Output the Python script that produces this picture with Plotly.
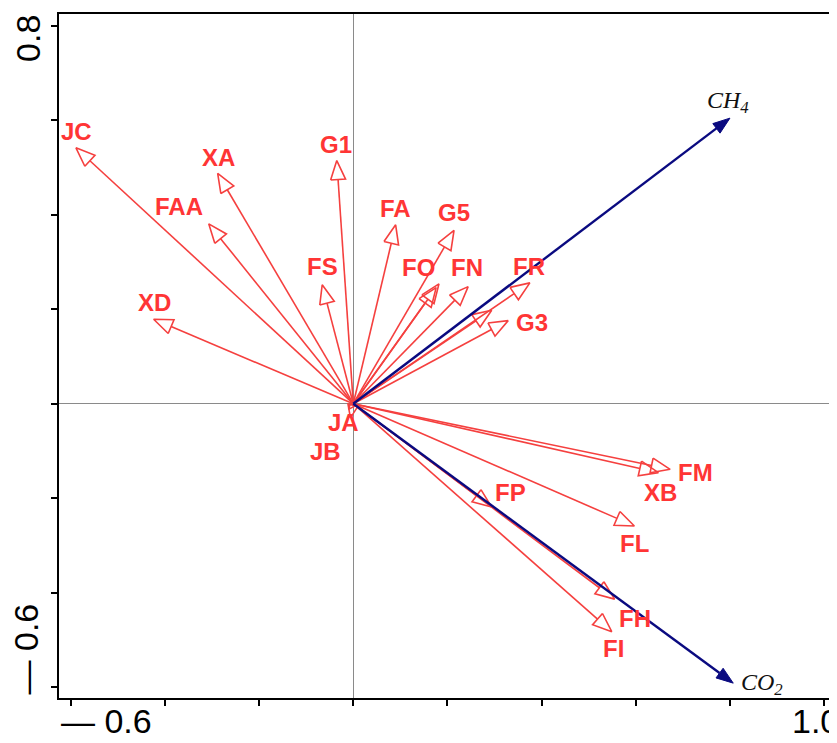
import math
import plotly.graph_objects as go

# ---- data ----
species = ["JC", "XA", "FAA", "G1", "FA", "FS", "XD", "G5", "FO", "", "FN", "FR", "", "G3",
           "FM", "XB", "FP", "FL", "FH", "FI", "JA", "JB"]
sp_x = [-0.589, -0.288, -0.307, -0.035, 0.090, -0.066, -0.424, 0.214, 0.182, 0.176, 0.244, 0.375, 0.294, 0.329,
        0.673, 0.648, 0.294, 0.597, 0.555, 0.549, -0.006, -0.010]
sp_y = [0.542, 0.488, 0.381, 0.515, 0.379, 0.252, 0.179, 0.367, 0.254, 0.246, 0.248, 0.256, 0.198, 0.176,
        -0.139, -0.146, -0.219, -0.259, -0.414, -0.483, -0.030, -0.012]

env = ["CH<sub>4</sub>", "CO<sub>2</sub>"]
env_x = [0.800, 0.807]
env_y = [0.605, -0.592]

# label offsets in pixels (xshift, yshift) relative to arrow tips
sp_shift = [(1, 16), (1, 16), (-30, 17), (-1, 16), (0, 16), (0, 18), (1, 17), (0, 18), (-20, 16), (0, 0),
            (-1, 19), (-1, 16), (0, 0), (24, -2), (25, -3), (2, -20), (19, 15), (0, -18), (20, -19), (2, -17),
            (-7, -5), (-23, -42)]
env_shift = [(-2, 16), (29, -1)]

PX = 472.0  # pixels per data unit (both axes equal)
RED = "#f5403f"
RED_TXT = "#ff3535"
NAVY = "#0a0a80"


def arrow_geom(xs, ys, head_px, half_px):
    shaft_x, shaft_y, head_x, head_y = [], [], [], []
    for x, y in zip(xs, ys):
        L = math.hypot(x, y)
        ux, uy = x / L, y / L
        hl = min(head_px / PX, 0.9 * L)
        hw = half_px / PX * (hl / (head_px / PX))
        bx, by = x - hl * ux, y - hl * uy
        px_, py_ = -uy, ux
        lx, ly = bx + hw * px_, by + hw * py_
        rx, ry = bx - hw * px_, by - hw * py_
        if L > hl:
            shaft_x += [0, bx, None]
            shaft_y += [0, by, None]
        head_x += [lx, x, rx, lx, None]
        head_y += [ly, y, ry, ly, None]
    return shaft_x, shaft_y, head_x, head_y


fig = go.Figure()

sx, sy, hx, hy = arrow_geom(sp_x, sp_y, 19, 7.5)
fig.add_trace(go.Scatter(x=sx, y=sy, mode="lines", line=dict(color=RED, width=1.6),
                         hoverinfo="skip", showlegend=False))
fig.add_trace(go.Scatter(x=hx, y=hy, mode="lines", line=dict(color=RED, width=1.6),
                         hoverinfo="skip", showlegend=False))

ex, ey, ehx, ehy = arrow_geom(env_x, env_y, 17, 6)
fig.add_trace(go.Scatter(x=ex, y=ey, mode="lines", line=dict(color=NAVY, width=2.4),
                         hoverinfo="skip", showlegend=False))
fig.add_trace(go.Scatter(x=ehx, y=ehy, mode="lines", fill="toself", fillcolor=NAVY,
                         line=dict(color=NAVY, width=1), hoverinfo="skip", showlegend=False))

for name, x, y, (dx, dy) in zip(species, sp_x, sp_y, sp_shift):
    if not name:
        continue
    fig.add_annotation(x=x, y=y, xref="x", yref="y", text=name, showarrow=False,
                       xshift=dx, yshift=dy, xanchor="center", yanchor="middle",
                       font=dict(family="Arial, Liberation Sans", size=24, color=RED_TXT, weight="bold"))

for name, x, y, (dx, dy) in zip(env, env_x, env_y, env_shift):
    fig.add_annotation(x=x, y=y, xref="x", yref="y", text="<i>" + name + "</i>", showarrow=False,
                       xshift=dx, yshift=dy, xanchor="center", yanchor="middle",
                       font=dict(family="Times New Roman, Liberation Serif", size=24, color="#111111"))

# tick labels (only the extreme ones shown in the figure)
tick_font = dict(family="Arial, Liberation Sans", size=34, color="#000000")
fig.add_annotation(x=0, y=0, xref="paper", yref="paper", text="— 0.6", showarrow=False,
                   xanchor="left", yanchor="top", yshift=-2, font=tick_font)
fig.add_annotation(x=0.9434, y=0, xref="paper", yref="paper", text="1.0", showarrow=False,
                   xanchor="left", yanchor="top", yshift=-2, font=tick_font)
fig.add_annotation(x=-0.040, y=0.9635, xref="paper", yref="paper", text="0.8", showarrow=False,
                   textangle=-90, xanchor="center", yanchor="middle", font=tick_font)
fig.add_annotation(x=-0.042, y=0.0716, xref="paper", yref="paper", text="— 0.6", showarrow=False,
                   textangle=-90, xanchor="center", yanchor="middle", font=tick_font)

tickvals_x = [-0.6, -0.4, -0.2, 0, 0.2, 0.4, 0.6, 0.8, 1.0]
tickvals_y = [-0.6, -0.4, -0.2, 0, 0.2, 0.4, 0.6, 0.8]

fig.update_xaxes(range=[-0.625, 1.021], showgrid=False, zeroline=True, zerolinecolor="#8a8a8a",
                 zerolinewidth=1, showline=True, linecolor="black", linewidth=2, mirror=True,
                 ticks="outside", ticklen=6, tickwidth=2, tickcolor="black",
                 tickvals=tickvals_x, showticklabels=False)
fig.update_yaxes(range=[-0.6235, 0.8256], showgrid=False, zeroline=True, zerolinecolor="#8a8a8a",
                 zerolinewidth=1, showline=True, linecolor="black", linewidth=2, mirror=True,
                 ticks="outside", ticklen=6, tickwidth=2, tickcolor="black",
                 tickvals=tickvals_y, showticklabels=False)

# page body has an 8px margin, so the figure is sized/offset to land on the reference pixels
fig.update_layout(width=829, height=735, margin=dict(l=51, r=1, t=6, b=45),
                  plot_bgcolor="white", paper_bgcolor="white", showlegend=False)

fig.write_html("out.html")
